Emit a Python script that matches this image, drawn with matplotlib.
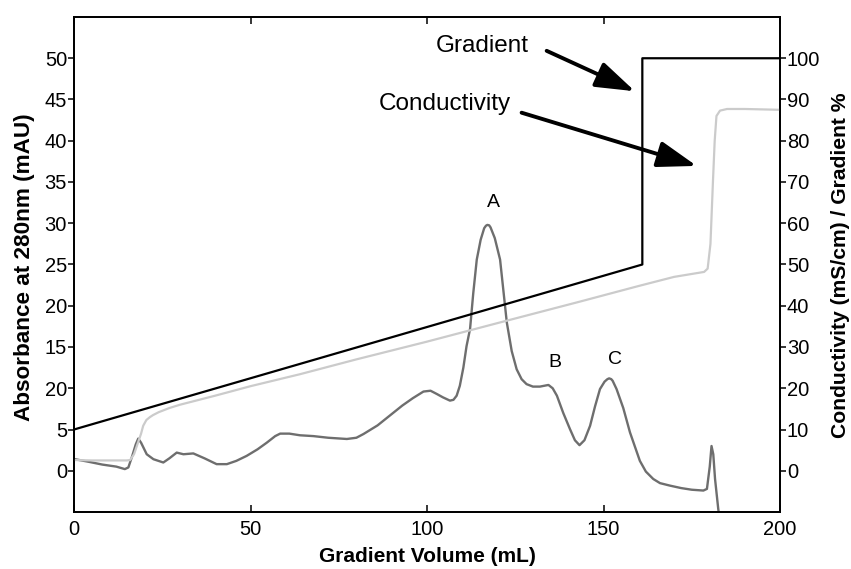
import matplotlib
matplotlib.use('Agg')
import matplotlib.pyplot as plt

plt.rcParams['font.family'] = ['Liberation Sans', 'DejaVu Sans']

# ---- data ----
abs_x = [0, 4, 8, 12, 14.4, 15.4, 16.5, 17.5, 18.2, 19, 20.6, 22.5, 25.3, 27, 29.1, 31,
         33.8, 37, 40.4, 43.3, 46, 48.9, 52, 54.6, 57, 58.4, 61, 64, 67.8, 72, 77.3, 80,
         82, 86, 89.5, 93, 96, 99, 101, 102.8, 104.5, 106.5, 107.5, 108.4, 109.3, 110.3,
         111.2, 112.2, 113.1, 114.1, 115.2, 116.2, 116.7, 117.1, 117.6, 118, 119.2, 120.7,
         121.6, 122.6, 124, 125.4, 126.8, 128.2, 130, 132, 134.4, 135.6, 136.8, 138.6,
         140.5, 141.9, 143.2, 144.6, 146.2, 147.6, 149, 150.3, 151.1, 151.6, 152.2, 152.6,
         153.7, 155.6, 157.5, 160.3, 162, 164.1, 166, 168.8, 172, 175, 178.3, 179.3,
         180.1, 180.6, 181.1, 181.6, 182.5, 183.5]
abs_y = [1.42, 1.1, 0.75, 0.5, 0.2, 0.4, 1.8, 3.2, 3.9, 3.4, 2.0, 1.4, 1.0, 1.5, 2.2, 2.0,
         2.1, 1.5, 0.8, 0.8, 1.2, 1.8, 2.6, 3.4, 4.2, 4.5, 4.5, 4.3, 4.2, 4.0, 3.85, 4.0,
         4.45, 5.5, 6.7, 7.9, 8.8, 9.6, 9.7, 9.3, 8.9, 8.5, 8.6, 9.1, 10.3, 12.5,
         15.1, 17.2, 21.5, 25.6, 28.0, 29.4, 29.7, 29.8, 29.75, 29.5, 28.2, 25.6,
         22.0, 18.0, 14.5, 12.3, 11.1, 10.5, 10.2, 10.2, 10.4, 10.0, 9.1, 7.0,
         5.05, 3.7, 3.1, 3.7, 5.45, 7.8, 9.9, 10.8, 11.1, 11.2, 11.1, 10.9,
         9.9, 7.6, 4.65, 1.2, -0.1, -1.0, -1.5, -1.8, -2.1, -2.3, -2.4, -2.2,
         0.5, 3.0, 2.0, -1.0, -4.6, -8.0]

cond_x = [0, 5, 10, 15, 15.9, 17, 18, 19, 19.6, 20.5, 21.5, 22.4, 24, 27, 30, 40, 50, 64,
          80, 100, 120, 143.3, 160, 170, 178.5, 179.5, 180.3, 181, 181.5, 182, 183, 185,
          190, 200]
cond_y = [2.6, 2.5, 2.5, 2.5, 2.6, 4.0, 6.5, 9.0, 10.9, 12.3, 13.0, 13.5, 14.2, 15.2, 16.0,
          18.2, 20.5, 23.4, 27.0, 31.3, 35.8, 41.0, 44.8, 47.0, 48.2, 49.0, 55.0, 70.0,
          80.0, 86.0, 87.3, 87.7, 87.7, 87.5]

grad_x = [0, 161, 161, 200]
grad_y = [10, 50, 100, 100]

x_ticks = [0, 50, 100, 150, 200]
left_ticks = [0, 5, 10, 15, 20, 25, 30, 35, 40, 45, 50]
left_tick_labels = ['0', '5', '20', '15', '20', '25', '30', '35', '40', '45', '50']
right_ticks = [0, 10, 20, 30, 40, 50, 60, 70, 80, 90, 100]

peak_names = ['A', 'B', 'C']

# ---- figure ----
W, H = 851, 569
fig = plt.figure(figsize=(W / 100, H / 100), dpi=100)
ax = fig.add_axes([74 / W, 1 - 512 / H, 706 / W, 495 / H])

ax.plot(abs_x, abs_y, color='#6e6e6e', lw=1.7, zorder=2)
ax.set_xlim(0, 200)
ax.set_ylim(-5, 55)
ax.set_xticks(x_ticks)
ax.set_yticks(left_ticks)
ax.set_yticklabels(left_tick_labels)
ax.tick_params(axis='x', direction='in', top=True, length=5, width=1.1,
               labelsize=14.5, pad=6)
ax.tick_params(axis='y', direction='out', length=4, width=1.1, labelsize=14.5, pad=1)

ax.set_xlabel('Gradient Volume (mL)', fontsize=15, fontweight='bold')
ax.xaxis.set_label_coords(0.5, (512 - 557) / 495)
ax.xaxis.label.set_va('center')
ax.set_ylabel('Absorbance at 280nm (mAU)', fontsize=16.2, fontweight='bold')
ax.yaxis.set_label_coords((25 - 74) / 706, (512 - 267) / 495)
ax.yaxis.label.set_va('center')

ax2 = ax.twinx()
ax2.plot(cond_x, cond_y, color='#cbcbcb', lw=1.6, zorder=2)
ax2.plot(grad_x, grad_y, color='black', lw=1.6, zorder=3)
ax2.set_ylim(-10, 110)
ax2.set_yticks(right_ticks)
ax2.tick_params(axis='y', direction='out', length=4, width=1.1, labelsize=14.5, pad=1)
ax2.set_ylabel('Conductivity (mS/cm) / Gradient %', fontsize=15.2, fontweight='bold')
ax2.yaxis.set_label_coords((841 - 74) / 706, (512 - 265) / 495)
ax2.yaxis.label.set_va('center')

for a in (ax, ax2):
    for s in a.spines.values():
        s.set_linewidth(1.3)

# peak labels
for name, (px, py) in zip(peak_names, [(118.8, 32.5), (136.3, 13.1), (153.3, 13.5)]):
    ax.text(px, py, name, fontsize=14, ha='center', va='center')

# annotations with arrows
ax.text(115.6, 51.5, 'Gradient', fontsize=17.5, ha='center', va='center')
ax.text(105.1, 44.4, 'Conductivity', fontsize=17.5, ha='center', va='center')
arrow_kw = dict(arrowstyle='-|>,head_length=1.2,head_width=0.4', color='black',
                lw=2.8, mutation_scale=20, shrinkA=0, shrinkB=0)
ax.annotate('', xy=(158.9, 46.0), xytext=(133.9, 50.9), arrowprops=arrow_kw, zorder=5)
ax.annotate('', xy=(176.4, 36.95), xytext=(126.8, 43.4), arrowprops=arrow_kw, zorder=5)

fig.savefig('out.png', dpi=100)
